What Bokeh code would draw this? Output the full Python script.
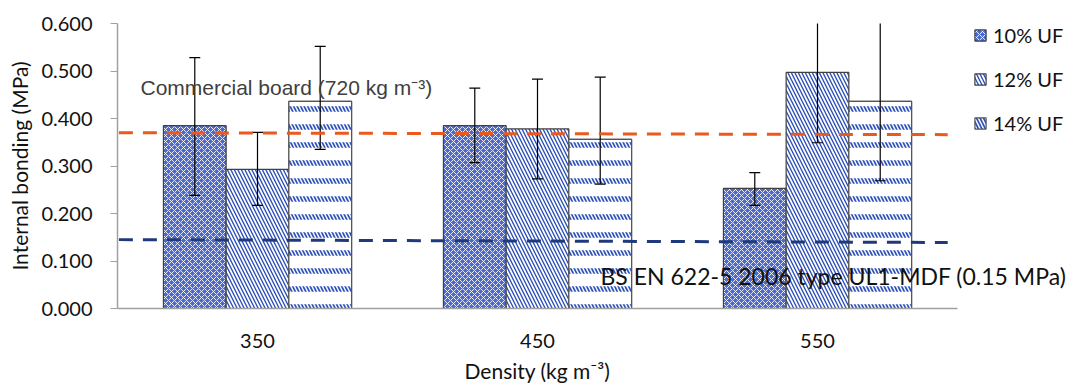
from bokeh.plotting import figure
from bokeh.models import Range1d, FixedTicker, Legend, LegendItem, Label, Title
from bokeh.embed import file_html
from bokeh.resources import INLINE

# ---- data ----
densities = ["350", "450", "550"]
uf_levels = ["10% UF", "12% UF", "14% UF"]
ib_10 = [0.385, 0.385, 0.253]
ib_12 = [0.293, 0.378, 0.497]
ib_14 = [0.436, 0.356, 0.436]
lo_10 = [0.238, 0.307, 0.217]
hi_10 = [0.528, 0.464, 0.286]
lo_12 = [0.217, 0.273, 0.349]
hi_12 = [0.371, 0.483, 0.645]
lo_14 = [0.335, 0.262, 0.269]
hi_14 = [0.552, 0.487, 0.620]
commercial_line = [0.370, 0.366]   # hand-drawn reference line (left, right)
standard_line = [0.145, 0.139]
commercial_text = "Commercial board (720 kg m\u207b\u00b3)"
standard_text = "BS EN 622-5 2006 type UL1-MDF (0.15 MPa)"
x_title = "Density (kg m\u207b\u00b3)"
y_title = "Internal bonding (MPa)"

BLUE = "#2f52b8"
OUT = "#404040"
FONT = "Lato"

n = len(densities)
# frame extends to the right edge so that the legend and long label are not clipped
p = figure(width=1073, height=388, output_backend="svg", toolbar_location=None,
           x_range=Range1d(0, n * (1073 - 117) / 840), y_range=Range1d(0, 0.6),
           min_border_left=117, min_border_right=0, min_border_top=23,
           min_border_bottom=80)
p.outline_line_color = None
p.grid.visible = False
p.background_fill_color = "white"

bw = 0.224
centers = [i + 0.5 for i in range(n)]

def xs(j):
    return [c + (j - 1) * bw for c in centers]

r10 = p.vbar(x=xs(0), top=ib_10, width=bw, fill_color="#4e6bcb",
             hatch_pattern="diagonal_cross", hatch_color="white", hatch_alpha=0.85,
             hatch_scale=6, hatch_weight=1, line_color=OUT, line_width=1.2)
r12 = p.vbar(x=xs(1), top=ib_12, width=bw, fill_color="white",
             hatch_pattern="left_diagonal_line", hatch_color=BLUE,
             hatch_scale=7, hatch_weight=1.4, line_color=OUT, line_width=1.2)
r14a = p.vbar(x=xs(2), top=ib_14, width=bw, fill_color="white",
              hatch_pattern="left_diagonal_line", hatch_color=BLUE,
              hatch_scale=7, hatch_weight=1.7, line_color="#555555", line_width=1.2)
r14b = p.vbar(x=xs(2), top=ib_14, width=bw, fill_alpha=0,
              hatch_pattern="horizontal_line", hatch_color="white",
              hatch_scale=18, hatch_weight=12.5, line_color="#555555", line_width=1.2)

# error bars
cap = 0.0196
for j, (lo, hi) in enumerate([(lo_10, hi_10), (lo_12, hi_12), (lo_14, hi_14)]):
    x = xs(j)
    p.segment(x0=x, y0=lo, x1=x, y1=hi, line_color="black", line_width=1.2)
    p.segment(x0=[v - cap for v in x], y0=lo, x1=[v + cap for v in x], y1=lo,
              line_color="black", line_width=1.2)
    p.segment(x0=[v - cap for v in x], y0=hi, x1=[v + cap for v in x], y1=hi,
              line_color="black", line_width=1.2)

# reference lines
line_x = [0.005, n - 0.035]
p.line(x=line_x, y=commercial_line, line_color="#ea5a1e", line_width=3, line_dash="14 10")
p.line(x=line_x, y=standard_line, line_color="#1f3a7c", line_width=3, line_dash="14 10")

p.add_layout(Label(x=0.082, y=0.465, text=commercial_text, text_font="Liberation Sans",
                   text_font_size="21px", text_color="#404040", text_baseline="middle"))
p.add_layout(Label(x=1.725, y=0.068, text=standard_text, text_font=FONT,
                   text_font_size="23px", text_color="#111111", text_baseline="middle"))

# axes
p.xaxis.bounds = (0, n)
p.xaxis.ticker = FixedTicker(ticks=centers)
p.xaxis.major_label_overrides = {c: d for c, d in zip(centers, densities)}
p.xaxis.major_tick_line_color = None
p.xaxis.minor_tick_line_color = None
p.xaxis.axis_line_color = "#a0a0a0"
p.xaxis.axis_line_width = 1.5
p.xaxis.major_label_standoff = 19

p.yaxis.ticker = FixedTicker(ticks=[0, 0.1, 0.2, 0.3, 0.4, 0.5, 0.6])
p.yaxis.major_label_overrides = {v: f"{v:.3f}" for v in [0, 0.1, 0.2, 0.3, 0.4, 0.5, 0.6]}
p.yaxis.minor_tick_line_color = None
p.yaxis.major_tick_in = 0
p.yaxis.major_tick_out = 7
p.yaxis.major_tick_line_color = "#a0a0a0"
p.yaxis.axis_line_color = "#a0a0a0"
p.yaxis.axis_line_width = 1.5
p.yaxis.major_label_standoff = 18
p.yaxis.axis_label = y_title
p.yaxis.axis_label_standoff = 6

for ax in (p.xaxis, p.yaxis):
    ax.major_label_text_font = FONT
    ax.major_label_text_font_size = "20px"
    ax.major_label_text_color = "#111111"
    ax.axis_label_text_font = FONT
    ax.axis_label_text_font_size = "21px"
    ax.axis_label_text_font_style = "normal"
    ax.axis_label_text_color = "#111111"

# x-axis title centred under the three groups (not under the wider frame)
p.add_layout(Title(text=x_title, align="left", offset=347, text_font=FONT,
                   text_font_size="21px", text_font_style="normal",
                   text_color="#111111", standoff=11), "below")

legend = Legend(items=[LegendItem(label=uf_levels[0], renderers=[r10]),
                       LegendItem(label=uf_levels[1], renderers=[r12]),
                       LegendItem(label=uf_levels[2], renderers=[r14a])],
                location=(856, 173), orientation="vertical",
                glyph_width=14, glyph_height=14, label_height=20, spacing=20,
                padding=0, margin=0, label_standoff=6,
                border_line_color=None, background_fill_alpha=0,
                label_text_font=FONT, label_text_font_size="20px",
                label_text_color="#111111")
p.add_layout(legend)

open("out.html", "w").write(file_html(p, INLINE))
